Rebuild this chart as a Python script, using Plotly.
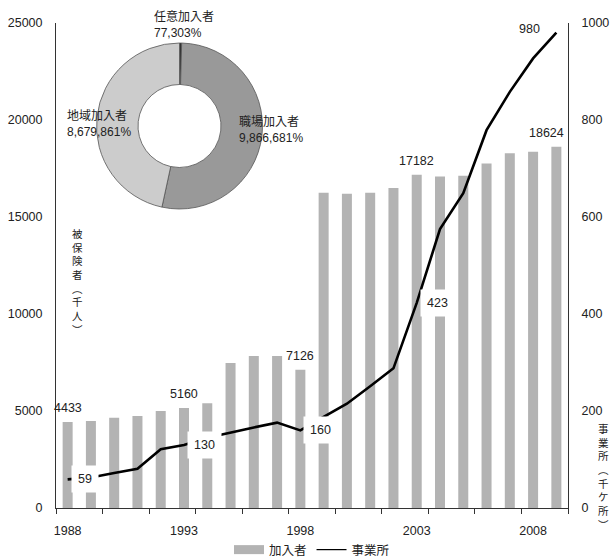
import plotly.graph_objects as go

# Insured persons (thousands) and establishments (thousand sites), 1988-2009
years = list(range(1988, 2010))
members = [4433, 4480, 4650, 4740, 5000, 5160, 5400, 7480, 7840, 7840, 7126,
           16250, 16200, 16250, 16500, 17182, 17090, 17120, 17760, 18280, 18360, 18624]
offices = [59, 63, 72, 81, 121, 130, 145, 156, 166, 176, 160,
           188, 215, 251, 288, 423, 575, 649, 779, 858, 927, 980]

member_label_years = [1988, 1993, 1998, 2003, 2009]
office_label_years = [1988, 1993, 1998, 2003, 2009]

# Breakdown of members by category (donut)
pie_labels = ["任意加入者", "職場加入者", "地域加入者"]
pie_values = [77303, 9866681, 8679861]
pie_colors = ["#333333", "#999999", "#cccccc"]

xtick_years = [1988, 1993, 1998, 2003, 2008]
left_ticks = [0, 5000, 10000, 15000, 20000, 25000]
right_ticks = [0, 200, 400, 600, 800, 1000]

FONT = "Liberation Sans, Arial, Noto Sans CJK JP, sans-serif"
TXT = "#222222"
BAR = "#b3b3b3"
AXIS = "#333333"

W, H = 610, 558
ML, MR, MT, MB = 56, 42, 23, 50
PW, PH = W - ML - MR, H - MT - MB


def px_to_paper(px, py):
    return (px - ML) / PW, (MT + PH - py) / PH


fig = go.Figure()

fig.add_trace(go.Bar(
    x=years, y=members, name="加入者", marker=dict(color=BAR, line=dict(width=0)),
    showlegend=False, yaxis="y", hoverinfo="skip"))

fig.add_trace(go.Scatter(
    x=years, y=offices, name="事業所", mode="lines",
    line=dict(color="black", width=2.6), yaxis="y2", showlegend=False,
    hoverinfo="skip"))

# legend entries
fig.add_trace(go.Scatter(x=[None], y=[None], mode="lines", name="加入者",
                         line=dict(color=BAR, width=9), yaxis="y"))
fig.add_trace(go.Scatter(x=[None], y=[None], mode="lines", name="事業所",
                         line=dict(color="black", width=1.2), yaxis="y2"))

# donut
d_x0, d_y0 = px_to_paper(96.5, 209)
d_x1, d_y1 = px_to_paper(262.5, 43)
fig.add_trace(go.Pie(
    labels=pie_labels, values=pie_values, hole=0.5, sort=False,
    direction="clockwise", rotation=0, textinfo="none", showlegend=False,
    marker=dict(colors=pie_colors, line=dict(color="#555555", width=0.8)),
    domain=dict(x=[d_x0, d_x1], y=[d_y0, d_y1]), hoverinfo="skip"))

annotations = []

# donut labels
pie_label_pos = {"任意加入者": (152, 25.5), "職場加入者": (237, 130), "地域加入者": (65, 123.5)}
for name, val in zip(pie_labels, pie_values):
    px, py = pie_label_pos[name]
    ax, ay = px_to_paper(px, py)
    annotations.append(dict(
        xref="paper", yref="paper", x=ax, y=ay, xanchor="left", yanchor="middle",
        align="left", showarrow=False, text=f"{name}<br>{val:,}%",
        font=dict(size=12, color=TXT, family=FONT)))

# bar value labels
for yr in member_label_years:
    v = members[years.index(yr)]
    annotations.append(dict(
        x=yr, y=v, xref="x", yref="y", showarrow=False, text=str(v),
        xanchor="center", yanchor="bottom", yshift=5,
        xshift=-10 if yr == years[-1] else 0,
        font=dict(size=12.5, color=TXT, family=FONT)))

# line value labels
for yr in office_label_years:
    v = offices[years.index(yr)]
    if yr == years[-1]:
        annotations.append(dict(
            x=yr, y=v, xref="x", yref="y2", showarrow=False, text=str(v),
            xanchor="right", yanchor="middle", xshift=-14, yshift=4,
            font=dict(size=12.5, color=TXT, family=FONT)))
    else:
        annotations.append(dict(
            x=yr, y=v, xref="x", yref="y2", showarrow=False, text=str(v),
            xanchor="left", yanchor="middle", xshift=3, bgcolor="white",
            borderpad=6, font=dict(size=12.5, color=TXT, family=FONT)))

# vertical axis titles, one character per line
left_title = ["被", "保", "険", "者", "︵", "千", "人", "︶"]
right_title = ["事", "業", "所", "︵", "千", "ケ", "所", "︶"]
for chars, cx, cy in ((left_title, 77.5, 282), (right_title, 603, 477)):
    ax, ay = px_to_paper(cx, cy)
    annotations.append(dict(
        xref="paper", yref="paper", x=ax, y=ay, xanchor="center",
        yanchor="middle", showarrow=False, text="<br>".join(chars),
        font=dict(size=10.5, color=TXT, family=FONT)))

lx, ly = px_to_paper(0, 550)

fig.update_layout(
    width=W, height=H,
    margin=dict(l=ML, r=MR, t=MT, b=MB, pad=0, autoexpand=False),
    paper_bgcolor="white", plot_bgcolor="white",
    font=dict(family=FONT, size=12.5, color=TXT),
    bargap=0.57,
    xaxis=dict(range=[years[0] - 0.5, years[-1] + 0.5], tickmode="array",
               tickvals=xtick_years, ticktext=[str(t) for t in xtick_years],
               ticks="", showgrid=False, zeroline=False, showline=True,
               linecolor=AXIS, linewidth=1, ticklabelstandoff=11,
               minor=dict(tickmode="array",
                          tickvals=[y - 0.5 for y in years[::2]] + [years[-1] + 0.5],
                          ticks="outside", ticklen=5, tickcolor=AXIS, showgrid=False)),
    yaxis=dict(range=[0, 25000], tickmode="array", tickvals=left_ticks,
               ticktext=[str(t) for t in left_ticks],
               ticks="", showgrid=False, zeroline=False, showline=True,
               linecolor=AXIS, linewidth=1, ticklabelstandoff=10),
    yaxis2=dict(range=[0, 1000], tickmode="array", tickvals=right_ticks,
                ticktext=[str(t) for t in right_ticks],
                overlaying="y", side="right", ticks="", showgrid=False,
                zeroline=False, showline=True, linecolor=AXIS, linewidth=1,
                ticklabelstandoff=10),
    legend=dict(orientation="h", x=0.5, xanchor="center", y=ly, yanchor="middle",
                font=dict(size=12.5, family=FONT, color=TXT), itemwidth=30,
                bgcolor="rgba(0,0,0,0)"),
    annotations=annotations,
)

fig.write_html("out.html")
